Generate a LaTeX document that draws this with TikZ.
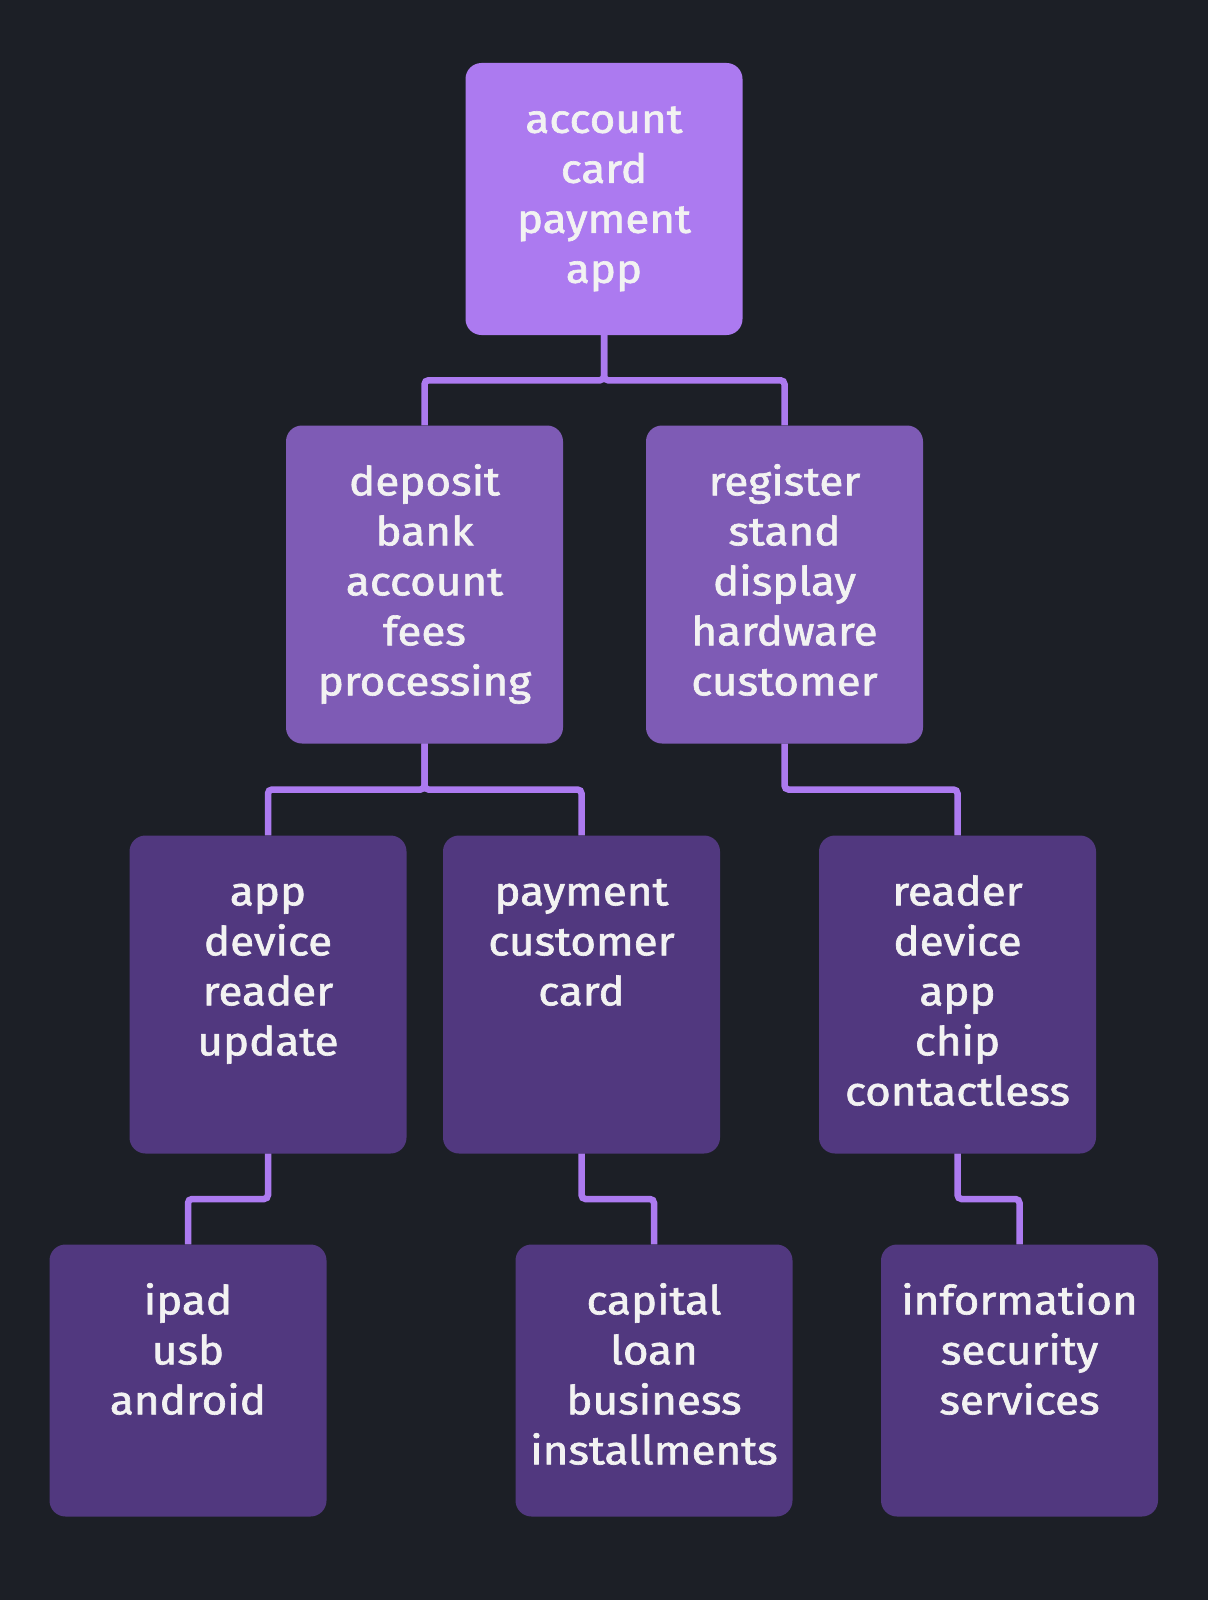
\documentclass[tikz,border=0pt]{standalone}
\usepackage{fontspec}
\setmainfont{Fira Sans}[FakeBold=1.6, FakeStretch=1.1]
\usetikzlibrary{calc}
\definecolor{bgc}{HTML}{1C1F26}
\definecolor{lvla}{HTML}{AC7AF0}
\definecolor{lvlb}{HTML}{7E5BB5}
\definecolor{lvlc}{HTML}{51387F}
\definecolor{linec}{HTML}{AC7AF0}
\definecolor{txtc}{HTML}{F2F2F2}
\newcommand{\btext}[1]{{\setlength{\tabcolsep}{0pt}\begin{tabular}[t]{c}#1\end{tabular}}}
\tikzset{
  card/.style={rectangle, rounded corners=16pt, minimum width=277pt, inner sep=0pt, draw=none},
  shortcard/.style={card, minimum height=272pt},
  tallcard/.style={card, minimum height=318pt},
  words/.style={anchor=base, inner sep=0pt, text=txtc, font=\fontsize{40}{50}\selectfont},
  link/.style={draw=linec, line width=6.5pt, rounded corners=4pt}
}
\newcommand{\linkit}[2]{\draw[link] (#1.south) |- ($(#1.south)!0.5!(#2.north)$) -| (#2.north);}
\begin{document}
\begin{tikzpicture}[x=1pt,y=-1pt]
\fill[bgc] (0,0) rectangle (1208,1600);
% boxes
\node[shortcard, fill=lvla] (top) at (604,199) {};
\node[tallcard, fill=lvlb] (ba) at (424.5,584.5) {};
\node[tallcard, fill=lvlb] (bb) at (784.5,584.5) {};
\node[tallcard, fill=lvlc] (ca) at (268,994.5) {};
\node[tallcard, fill=lvlc] (cb) at (581.5,994.5) {};
\node[tallcard, fill=lvlc] (cc) at (957.5,994.5) {};
\node[shortcard, fill=lvlc] (da) at (188,1380.5) {};
\node[shortcard, fill=lvlc] (db) at (654,1380.5) {};
\node[shortcard, fill=lvlc] (dc) at (1019.5,1380.5) {};
% texts
\node[words] (ttop) at ($(top.north)+(0,70)$) {\btext{account\\card\\payment\\app}};
\node[words] (tba) at ($(ba.north)+(0,70)$) {\btext{deposit\\bank\\account\\fees\\processing}};
\node[words] (tbb) at ($(bb.north)+(0,70)$) {\btext{register\\stand\\display\\hardware\\customer}};
\node[words] (tca) at ($(ca.north)+(0,70)$) {\btext{app\\device\\reader\\update}};
\node[words] (tcb) at ($(cb.north)+(0,70)$) {\btext{payment\\customer\\card}};
\node[words] (tcc) at ($(cc.north)+(0,70)$) {\btext{reader\\device\\app\\chip\\contactless}};
\node[words] (tda) at ($(da.north)+(0,70)$) {\btext{ipad\\usb\\android}};
\node[words] (tdb) at ($(db.north)+(0,70)$) {\btext{capital\\loan\\business\\installments}};
\node[words] (tdc) at ($(dc.north)+(0,70)$) {\btext{information\\security\\services}};
% connectors
\linkit{top}{ba}
\linkit{top}{bb}
\linkit{ba}{ca}
\linkit{ba}{cb}
\linkit{bb}{cc}
\linkit{ca}{da}
\linkit{cb}{db}
\linkit{cc}{dc}
\end{tikzpicture}
\end{document}
